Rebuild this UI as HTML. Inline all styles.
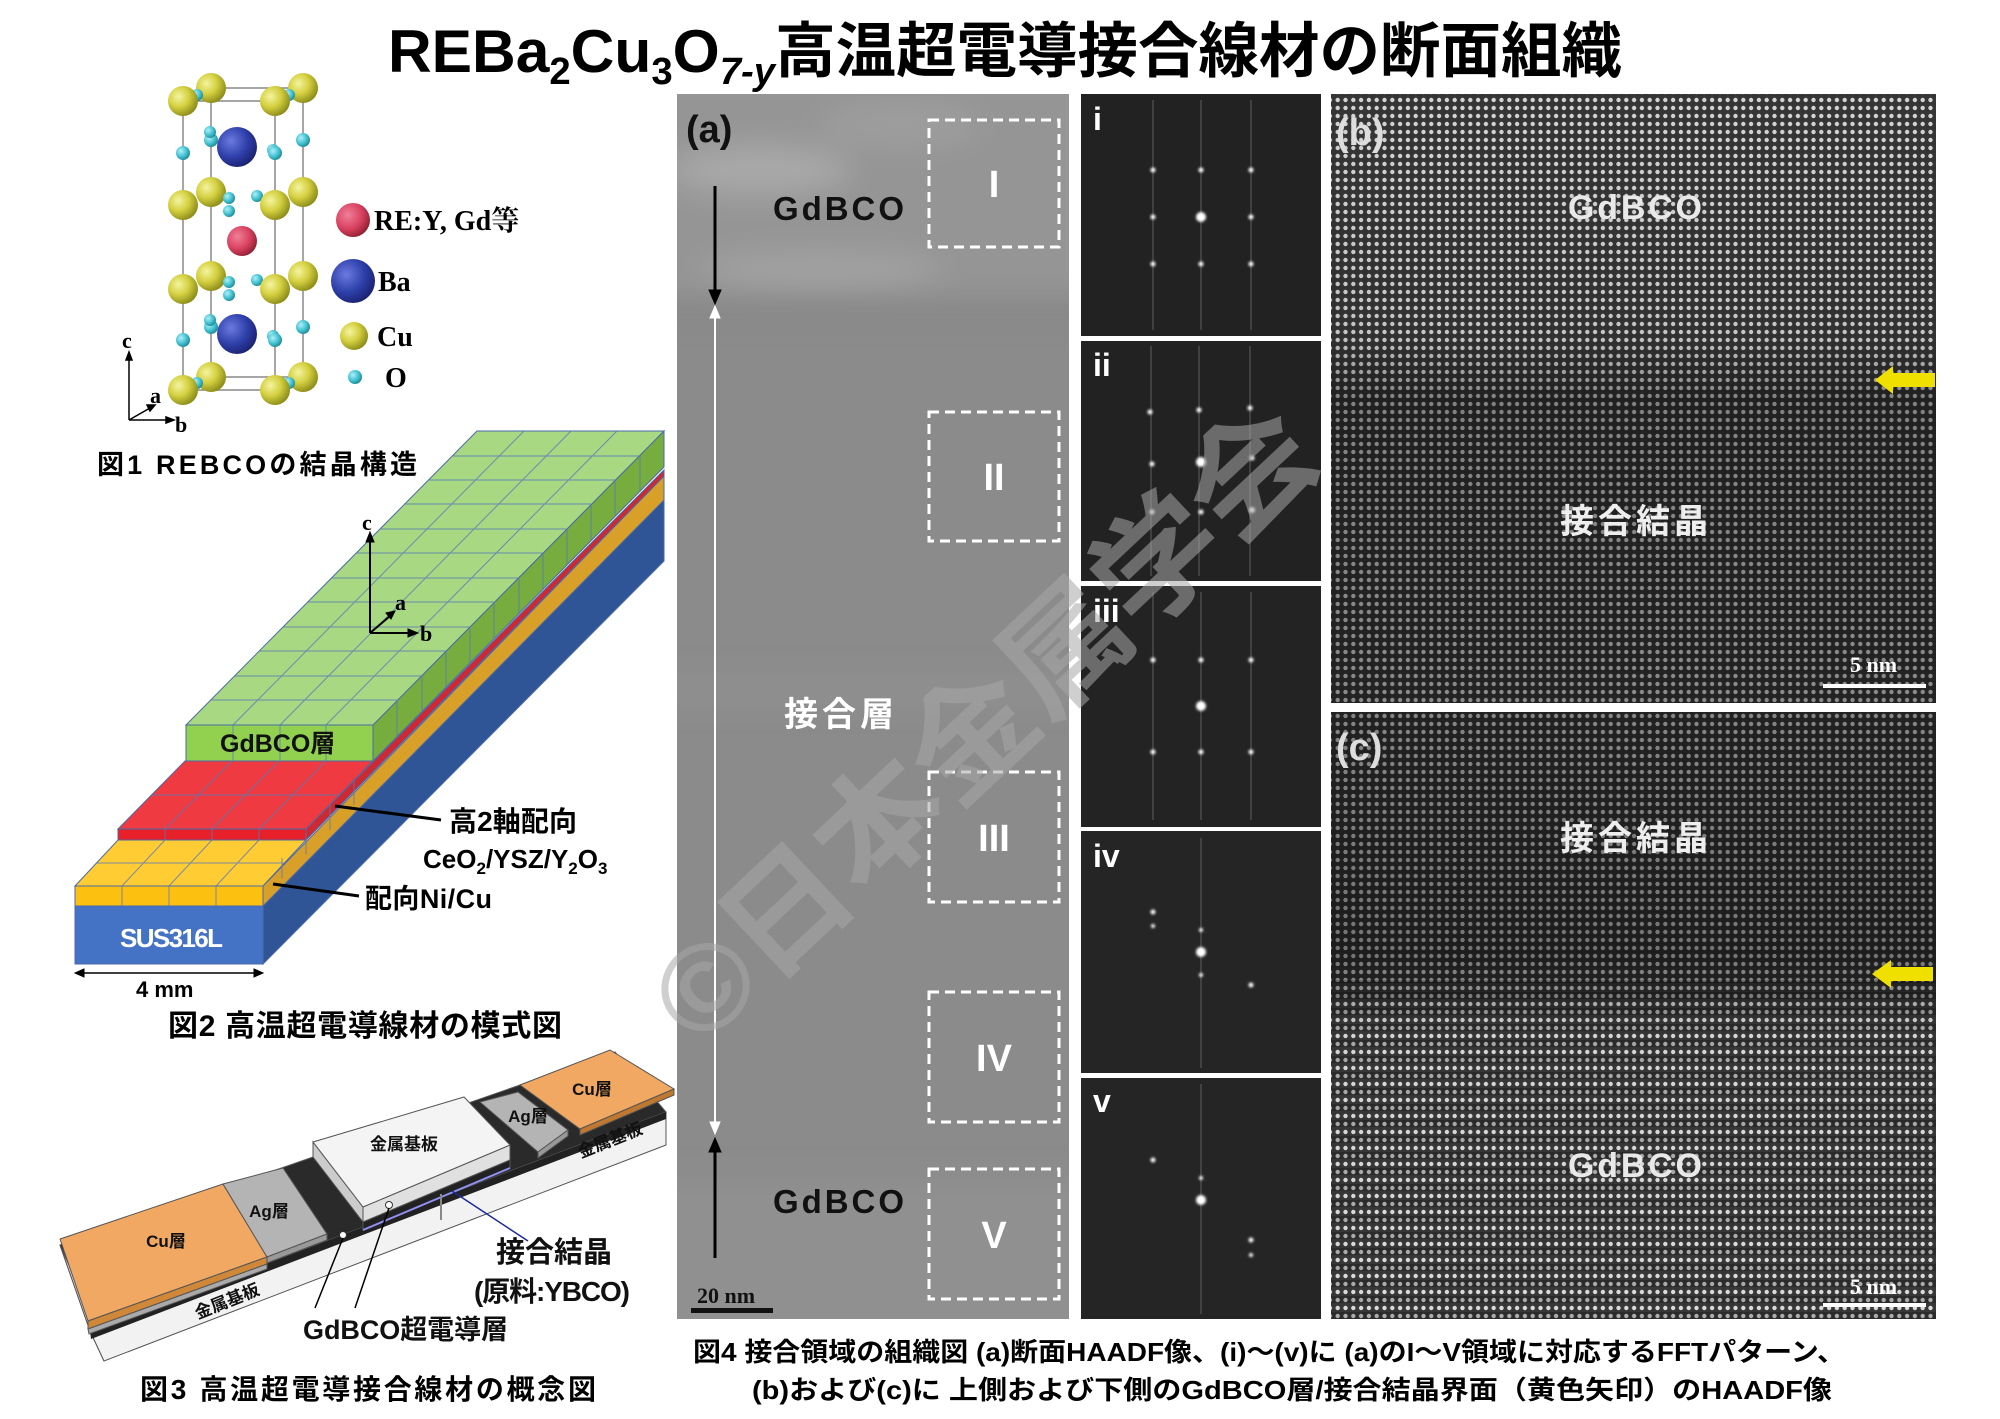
<!DOCTYPE html>
<html><head><meta charset="utf-8"><style>
html,body{margin:0;padding:0;background:#fff;}
svg{display:block;}
.s{font-family:"Liberation Sans","Noto Sans CJK JP",sans-serif;font-weight:bold;}
.r{font-family:"Liberation Serif","Noto Serif CJK SC",serif;font-weight:bold;}
</style></head><body>
<svg width="2000" height="1419" viewBox="0 0 2000 1419" xmlns="http://www.w3.org/2000/svg">
<defs>
<radialGradient id="gCu" cx="35%" cy="35%" r="70%"><stop offset="0" stop-color="#f4f4a0"/><stop offset="0.5" stop-color="#d4d040"/><stop offset="1" stop-color="#8a8a18"/></radialGradient>
<radialGradient id="gBa" cx="35%" cy="35%" r="70%"><stop offset="0" stop-color="#6a7ae0"/><stop offset="0.6" stop-color="#2e3ea8"/><stop offset="1" stop-color="#1a2270"/></radialGradient>
<radialGradient id="gRE" cx="35%" cy="35%" r="70%"><stop offset="0" stop-color="#f08098"/><stop offset="0.6" stop-color="#d84060"/><stop offset="1" stop-color="#902030"/></radialGradient>
<radialGradient id="gO" cx="35%" cy="35%" r="70%"><stop offset="0" stop-color="#b0f0f8"/><stop offset="0.6" stop-color="#40c0d0"/><stop offset="1" stop-color="#208890"/></radialGradient>
<pattern id="lat" width="7.8" height="8" patternUnits="userSpaceOnUse"><rect width="7.8" height="8" fill="#383838"/><circle cx="3.9" cy="4" r="2.2" fill="#e0e0e0"/></pattern>
<pattern id="stripe" width="10" height="16" patternUnits="userSpaceOnUse"><rect width="10" height="7" fill="#000" fill-opacity="0.22"/></pattern>
<linearGradient id="gb" x1="0" y1="0" x2="0" y2="1">
<stop offset="0" stop-color="#000" stop-opacity="0.05"/><stop offset="0.4" stop-color="#000" stop-opacity="0.12"/><stop offset="0.5" stop-color="#000" stop-opacity="0.42"/><stop offset="1" stop-color="#000" stop-opacity="0.38"/></linearGradient>
<linearGradient id="gc" x1="0" y1="0" x2="0" y2="1">
<stop offset="0" stop-color="#000" stop-opacity="0.4"/><stop offset="0.4" stop-color="#000" stop-opacity="0.48"/><stop offset="0.45" stop-color="#000" stop-opacity="0.38"/><stop offset="0.52" stop-color="#000" stop-opacity="0.05"/><stop offset="1" stop-color="#000" stop-opacity="0.02"/></linearGradient>
<filter id="bl"><feGaussianBlur stdDeviation="14"/></filter>
<filter id="bl2"><feGaussianBlur stdDeviation="1.2"/></filter>
<clipPath id="ca"><rect x="677" y="94" width="392" height="1225"/></clipPath>
</defs>

<!-- Title -->
<text class="s" x="388" y="72" font-size="60" textLength="1234" lengthAdjust="spacingAndGlyphs">REBa<tspan font-size="38" dy="12">2</tspan><tspan dy="-12">Cu</tspan><tspan font-size="38" dy="12">3</tspan><tspan dy="-12">O</tspan><tspan font-size="38" dy="12" font-style="italic">7-y</tspan><tspan dy="-12">高温超電導接合線材の断面組織</tspan></text>

<!-- Fig1 crystal -->
<g stroke="#888" stroke-width="1.5" fill="none">
<path d="M183 101 L275 101 L303 88 L211 88 Z M183 390 L275 390 L303 377 L211 377 Z M183 101 V390 M275 101 V390 M303 88 V377 M211 88 V377"/>
</g>
<g>
<circle cx="211" cy="88" r="15" fill="url(#gCu)"/><circle cx="303" cy="88" r="15" fill="url(#gCu)"/>
<circle cx="211" cy="140" r="7" fill="url(#gO)"/><circle cx="303" cy="140" r="7" fill="url(#gO)"/>
<circle cx="211" cy="192" r="15" fill="url(#gCu)"/><circle cx="303" cy="192" r="15" fill="url(#gCu)"/>
<circle cx="211" cy="276" r="15" fill="url(#gCu)"/><circle cx="303" cy="276" r="15" fill="url(#gCu)"/>
<circle cx="211" cy="327" r="7" fill="url(#gO)"/><circle cx="303" cy="327" r="7" fill="url(#gO)"/>
<circle cx="211" cy="377" r="15" fill="url(#gCu)"/><circle cx="303" cy="377" r="15" fill="url(#gCu)"/>
<circle cx="197" cy="95" r="6" fill="url(#gO)"/><circle cx="289" cy="95" r="6" fill="url(#gO)"/>
<circle cx="229" cy="198" r="6" fill="url(#gO)"/><circle cx="257" cy="196" r="6" fill="url(#gO)"/>
<circle cx="229" cy="282" r="6" fill="url(#gO)"/><circle cx="257" cy="280" r="6" fill="url(#gO)"/>
<circle cx="197" cy="383" r="6" fill="url(#gO)"/><circle cx="289" cy="383" r="6" fill="url(#gO)"/>
<circle cx="237" cy="147" r="20" fill="url(#gBa)"/>
<circle cx="273" cy="150" r="6" fill="url(#gO)"/><circle cx="210" cy="132" r="6" fill="url(#gO)"/>
<circle cx="242" cy="241" r="15" fill="url(#gRE)"/>
<circle cx="237" cy="334" r="20" fill="url(#gBa)"/>
<circle cx="273" cy="336" r="6" fill="url(#gO)"/><circle cx="210" cy="320" r="6" fill="url(#gO)"/>
<circle cx="183" cy="153" r="7" fill="url(#gO)"/><circle cx="275" cy="153" r="7" fill="url(#gO)"/>
<circle cx="183" cy="340" r="7" fill="url(#gO)"/><circle cx="275" cy="340" r="7" fill="url(#gO)"/>
<circle cx="183" cy="101" r="15" fill="url(#gCu)"/><circle cx="275" cy="101" r="15" fill="url(#gCu)"/>
<circle cx="183" cy="205" r="15" fill="url(#gCu)"/><circle cx="275" cy="205" r="15" fill="url(#gCu)"/>
<circle cx="183" cy="289" r="15" fill="url(#gCu)"/><circle cx="275" cy="289" r="15" fill="url(#gCu)"/>
<circle cx="183" cy="390" r="15" fill="url(#gCu)"/><circle cx="275" cy="390" r="15" fill="url(#gCu)"/>
<circle cx="229" cy="211" r="6" fill="url(#gO)"/><circle cx="229" cy="295" r="6" fill="url(#gO)"/>
</g>
<g stroke="#000" stroke-width="1.5" fill="#000">
<path d="M129 420 V358" fill="none"/><path d="M126 360 L129 352 L132 360 Z"/>
<path d="M129 420 H168" fill="none"/><path d="M166 417 L174 420 L166 423 Z"/>
<path d="M129 420 L150 408" fill="none"/><path d="M147 405 L155 405 L150 411 Z"/>
</g>
<text class="r" x="122" y="348" font-size="22">c</text>
<text class="r" x="150" y="403" font-size="22">a</text>
<text class="r" x="175" y="432" font-size="22">b</text>
<circle cx="353" cy="220" r="17" fill="url(#gRE)"/>
<circle cx="353" cy="281" r="22" fill="url(#gBa)"/>
<circle cx="354" cy="336" r="14" fill="url(#gCu)"/>
<circle cx="355" cy="377" r="7" fill="url(#gO)"/>
<text class="r" x="374" y="230" font-size="28">RE:Y, Gd<tspan font-family="Noto Serif CJK SC,serif">等</tspan></text>
<text class="r" x="378" y="291" font-size="28">Ba</text>
<text class="r" x="377" y="346" font-size="28">Cu</text>
<text class="r" x="385" y="387" font-size="28">O</text>
<text class="s" x="97" y="474" font-size="27" textLength="320">図1  REBCOの結晶構造</text>

<!-- Fig2 -->
<g stroke="#4a6aa8" stroke-width="1">
<polygon points="263,906 664,500 664,561 263,964" fill="#2f5597"/>
<polygon points="75,906 263,906 263,964 75,964" fill="#4472c4"/>
<polygon points="263,886 664,476 664,500 263,906" fill="#d8a028"/>
<polygon points="75,886 118,840 306,840 263,886" fill="#ffcc33"/>
<polygon points="75,886 263,886 263,906 75,906" fill="#fcc010"/>
<polygon points="306,829 664,470 664,476 306,840" fill="#d02830"/>
<polygon points="118,829 185,761 373,761 306,829" fill="#ee3a40"/>
<polygon points="118,829 306,829 306,840 118,840" fill="#e8202a"/>
<polygon points="373,725 664,431 664,467 373,761" fill="#76ad3e"/>
<polygon points="186,725 477,431 664,431 373,725" fill="#a8d882"/>
<polygon points="186,725 373,725 373,761 186,761" fill="#92d050"/>
</g>
<g stroke="#5a7ab8" stroke-width="1" fill="none" opacity="0.8">
<path d="M210 700 H397 M235 676 H422 M259 651 H446 M283 627 H470 M307 602 H494 M332 578 H519 M356 553 H543 M380 529 H567 M404 504 H591 M428 480 H615 M453 456 H640"/>
<path d="M233 725 L524 431 M280 725 L571 431 M326 725 L617 431"/>
<path d="M233 725 V761 M280 725 V761 M326 725 V761"/>
<path d="M397 700 V737 M422 676 V712 M446 651 V688 M470 627 V663 M494 602 V639 M519 578 V614 M543 553 V590 M567 529 V565 M591 504 V541 M615 480 V516 M640 456 V492"/>
<path d="M152 795 H340 M165 829 L232 761 M212 829 L279 761 M259 829 L326 761 M165 829 V840 M212 829 V840 M259 829 V840"/>
<path d="M96 863 H284 M122 886 L165 840 M169 886 L212 840 M216 886 L259 840 M122 886 V906 M169 886 V906 M216 886 V906"/>
<path d="M330 805 V816 M354 781 V792 M282 858 V878 M306 834 V854 M330 810 V830 M354 785 V805"/>
</g>
<g stroke="#000" fill="#000">
<path d="M370 633 V540" stroke-width="2"/><path d="M366 542 L370 532 L374 542 Z"/>
<path d="M370 633 H410" stroke-width="2"/><path d="M408 629 L418 633 L408 637 Z"/>
<path d="M370 633 L390 616" stroke-width="2"/><path d="M386 613 L395 611 L391 619 Z"/>
<path d="M335 806 L441 820" stroke-width="3"/>
<path d="M273 884 L359 896" stroke-width="3"/>
<path d="M78 973 H260" stroke-width="1.5"/><path d="M84 969 L75 973 L84 977 Z"/><path d="M254 969 L263 973 L254 977 Z"/>
</g>
<text class="r" x="362" y="530" font-size="22">c</text>
<text class="r" x="395" y="610" font-size="22">a</text>
<text class="r" x="420" y="641" font-size="22">b</text>
<text class="s" x="220" y="752" font-size="25" fill="#111">GdBCO層</text>
<text class="s" x="449" y="831" font-size="28" textLength="128">高2軸配向</text>
<text class="s" x="423" y="868" font-size="26">CeO<tspan font-size="17" dy="6">2</tspan><tspan dy="-6">/YSZ/Y</tspan><tspan font-size="17" dy="6">2</tspan><tspan dy="-6">O</tspan><tspan font-size="17" dy="6">3</tspan></text>
<text class="s" x="365" y="908" font-size="27" textLength="127">配向Ni/Cu</text>
<text class="s" x="120" y="947" font-size="26" fill="#fff" textLength="103">SUS316L</text>
<text class="s" x="136" y="997" font-size="22">4 mm</text>
<text class="s" x="168" y="1036" font-size="30" textLength="394">図2  高温超電導線材の模式図</text>

<!-- Fig3 -->
<g stroke="#555" stroke-width="1">
<polygon points="60,1245 615,1052 666,1112 90,1331" fill="#2a2a2a"/>
<polygon points="60,1245 90,1331 104,1361 72,1272" fill="#ddd"/>
<polygon points="90,1331 666,1112 666,1145 104,1361" fill="#f2f2f2"/>
<polygon points="90,1331 666,1112 666,1119 91,1339" fill="#222" stroke="none"/>
<polygon points="60,1239 223,1184 267,1257 88,1321" fill="#f0a862"/>
<polygon points="88,1321 267,1257 267,1264 88,1329" fill="#d08838"/>
<polygon points="88,1329 267,1264 267,1269 89,1334" fill="#aaa"/>
<polygon points="223,1184 283,1168 327,1234 267,1257" fill="#b4b4b4"/>
<polygon points="267,1257 327,1234 327,1240 267,1263" fill="#999"/>
<polygon points="313,1142 363,1207 363,1222 313,1157" fill="#ccc"/>
<polygon points="363,1207 510,1145 510,1160 363,1222" fill="#e0e0e0"/>
<polygon points="363,1222 510,1160 510,1168 363,1230" fill="#222"/>
<polygon points="313,1142 464,1097 510,1145 363,1207" fill="#f4f4f4"/>
<polygon points="480,1102 518,1092 568,1130 538,1152" fill="#b4b4b4"/>
<polygon points="538,1152 568,1130 568,1136 538,1158" fill="#999"/>
<polygon points="520,1085 610,1050 674,1089 580,1129" fill="#f0a862"/>
<polygon points="580,1129 674,1089 674,1095 580,1135" fill="#c07830"/>
</g>
<path d="M363 1230 L510 1168" stroke="#9090f0" stroke-width="2"/>
<path d="M441 1194 V1220" stroke="#888" stroke-width="2"/>
<circle cx="343" cy="1235" r="3.5" fill="#fff" stroke="#333"/>
<circle cx="389" cy="1205" r="3.5" fill="#fff" stroke="#333"/>
<path d="M343 1238 L315 1308 M389 1208 L355 1308" stroke="#000" stroke-width="1.5"/>
<path d="M452 1191 L528 1241" stroke="#1a2a9a" stroke-width="1.5"/>
<g class="s" font-size="17" fill="#111">
<text x="404" y="1150" text-anchor="middle">金属基板</text>
<text x="166" y="1247" text-anchor="middle">Cu層</text>
<text x="592" y="1095" text-anchor="middle">Cu層</text>
<text x="269" y="1217" text-anchor="middle">Ag層</text>
<text x="528" y="1122" text-anchor="middle">Ag層</text>
<text x="227" y="1307" text-anchor="middle" transform="rotate(-22 227 1301)">金属基板</text>
<text x="610" y="1146" text-anchor="middle" transform="rotate(-22 610 1140)">金属基板</text>
</g>
<text class="s" x="496" y="1262" font-size="29" textLength="116" fill="#111">接合結晶</text>
<text class="s" x="474" y="1301" font-size="28" textLength="156" fill="#111">(原料:YBCO)</text>
<text class="s" x="303" y="1339" font-size="27" textLength="205" fill="#111">GdBCO超電導層</text>
<text class="s" x="140" y="1399" font-size="28" textLength="456">図3  高温超電導接合線材の概念図</text>

<!-- Fig4 (a) -->
<rect x="677" y="94" width="392" height="1225" fill="#8b8b8b"/>
<g clip-path="url(#ca)"><g filter="url(#bl)">
<rect x="640" y="60" width="460" height="240" fill="#959595"/>
<ellipse cx="760" cy="170" rx="90" ry="25" fill="#a8a8a8"/>
<ellipse cx="820" cy="270" rx="120" ry="18" fill="#a2a2a2"/>
<ellipse cx="900" cy="125" rx="80" ry="20" fill="#9e9e9e"/>
<rect x="640" y="300" width="460" height="12" fill="#808080"/>
<rect x="640" y="680" width="460" height="20" fill="#929292"/>
<rect x="640" y="1180" width="460" height="170" fill="#909090"/>
</g></g>
<g fill="none" stroke="#fff" stroke-width="3" stroke-dasharray="10,6">
<rect x="929" y="120" width="130" height="127"/>
<rect x="929" y="412" width="130" height="129"/>
<rect x="929" y="772" width="130" height="130"/>
<rect x="929" y="992" width="130" height="130"/>
<rect x="929" y="1169" width="130" height="130"/>
</g>
<g class="s" fill="#fff" font-size="38" text-anchor="middle">
<text x="994" y="197">I</text><text x="994" y="490">II</text><text x="994" y="851">III</text><text x="994" y="1071">IV</text><text x="994" y="1248">V</text>
</g>
<text class="s" x="686" y="142" font-size="38" fill="#111">(a)</text>
<text class="s" x="773" y="220" font-size="33" fill="#111" textLength="131">GdBCO</text>
<text class="s" x="773" y="1213" font-size="33" fill="#111" textLength="131">GdBCO</text>
<text class="s" x="784" y="726" font-size="34" fill="#fff" textLength="110">接合層</text>
<g stroke="#000" fill="#000">
<path d="M715 186 V294" stroke-width="3"/><path d="M709 290 L715 304 L721 290 Z"/>
<path d="M715 1258 V1148" stroke-width="3"/><path d="M709 1152 L715 1138 L721 1152 Z"/>
</g>
<g stroke="#fff" fill="#fff">
<path d="M715 316 V1124" stroke-width="2"/><path d="M710 318 L715 306 L720 318 Z"/><path d="M710 1122 L715 1134 L720 1122 Z"/>
</g>
<text class="r" x="697" y="1303" font-size="22" fill="#111">20 nm</text>
<rect x="691" y="1308" width="82" height="5" fill="#111"/>

<!-- FFT -->
<rect x="1081" y="94" width="240" height="242" fill="#222"/>
<rect x="1081" y="341" width="240" height="240" fill="#222"/>
<rect x="1081" y="586" width="240" height="241" fill="#232323"/>
<rect x="1081" y="831" width="240" height="242" fill="#252525"/>
<rect x="1081" y="1078" width="240" height="241" fill="#252525"/>
<g stroke="#888" stroke-width="1" opacity="0.6">
<path d="M1153 100 V330 M1201 100 V330 M1251 100 V330"/>
<path d="M1151 346 V576 M1199 346 V576 M1250 346 V576"/>
<path d="M1153 592 V820 M1201 592 V820 M1251 592 V820"/>
<path d="M1201 838 V1068"/>
<path d="M1201 1084 V1314"/>
</g>
<g fill="#fff" filter="url(#bl2)">
<circle cx="1201" cy="217" r="5"/><circle cx="1153" cy="217" r="2.5"/><circle cx="1251" cy="217" r="2.5"/>
<circle cx="1153" cy="170" r="2.5"/><circle cx="1201" cy="170" r="2.5"/><circle cx="1251" cy="170" r="2.5"/>
<circle cx="1153" cy="264" r="2.5"/><circle cx="1201" cy="264" r="2.5"/><circle cx="1251" cy="264" r="2.5"/>
<circle cx="1201" cy="462" r="5"/><circle cx="1150" cy="412" r="2.5"/><circle cx="1199" cy="410" r="2.5"/><circle cx="1250" cy="408" r="2.5"/>
<circle cx="1152" cy="464" r="2.5"/><circle cx="1252" cy="458" r="2.5"/><circle cx="1152" cy="512" r="2.5"/><circle cx="1201" cy="512" r="2.5"/><circle cx="1252" cy="510" r="3"/>
<circle cx="1201" cy="706" r="5"/><circle cx="1153" cy="660" r="2.5"/><circle cx="1201" cy="660" r="2.5"/><circle cx="1251" cy="660" r="2.5"/>
<circle cx="1153" cy="752" r="2.5"/><circle cx="1201" cy="752" r="2.5"/><circle cx="1251" cy="752" r="2.5"/>
<circle cx="1201" cy="952" r="5"/><circle cx="1153" cy="912" r="2.5"/><circle cx="1153" cy="926" r="2"/><circle cx="1251" cy="985" r="2.5"/><circle cx="1201" cy="930" r="2"/><circle cx="1201" cy="975" r="2"/>
<circle cx="1201" cy="1200" r="5"/><circle cx="1153" cy="1160" r="2.5"/><circle cx="1251" cy="1240" r="2.5"/><circle cx="1251" cy="1255" r="2"/><circle cx="1201" cy="1178" r="2"/>
</g>
<g class="s" fill="#fff" font-size="32">
<text x="1093" y="130">i</text><text x="1093" y="376">ii</text><text x="1093" y="622">iii</text><text x="1093" y="867">iv</text><text x="1093" y="1112">v</text>
</g>

<!-- (b) -->
<rect x="1331" y="94" width="605" height="609" fill="url(#lat)"/>
<rect x="1331" y="94" width="605" height="609" fill="url(#gb)"/>
<text class="s" x="1336" y="145" font-size="38" fill="#ddd">(b)</text>
<text class="s" x="1568" y="219" font-size="34" fill="#e8e8e8" textLength="134">GdBCO</text>
<text class="s" x="1560" y="533" font-size="34" fill="#eee" textLength="148">接合結晶</text>
<path d="M1935 373 H1893 V366 L1875 380 L1893 394 V387 H1935 Z" fill="#f0e000"/>
<text class="r" x="1850" y="672" font-size="22" fill="#fff">5 nm</text>
<rect x="1823" y="684" width="103" height="4" fill="#fff"/>

<!-- (c) -->
<rect x="1331" y="712" width="605" height="607" fill="url(#lat)"/>
<rect x="1331" y="980" width="605" height="339" fill="url(#stripe)"/>
<rect x="1331" y="712" width="605" height="607" fill="url(#gc)"/>
<text class="s" x="1336" y="760" font-size="38" fill="#ddd">(c)</text>
<text class="s" x="1560" y="850" font-size="34" fill="#eee" textLength="148">接合結晶</text>
<text class="s" x="1568" y="1177" font-size="34" fill="#e8e8e8" textLength="134">GdBCO</text>
<path d="M1933 967 H1891 V960 L1872 974 L1891 988 V981 H1933 Z" fill="#f0e000"/>
<text class="r" x="1850" y="1294" font-size="22" fill="#fff">5 nm</text>
<rect x="1823" y="1303" width="103" height="4" fill="#fff"/>

<!-- watermark -->
<text class="s" x="0" y="0" font-size="122" fill="#a8a8a8" fill-opacity="0.55" textLength="860" lengthAdjust="spacingAndGlyphs" transform="translate(700 1050) rotate(-43.2)">©日本金属学会</text>

<!-- caption -->
<text class="s" x="693" y="1361" font-size="26" textLength="1152" lengthAdjust="spacingAndGlyphs">図4  接合領域の組織図 (a)断面HAADF像、(i)～(v)に (a)のI～V領域に対応するFFTパターン、</text>
<text class="s" x="752" y="1399" font-size="26" textLength="1080" lengthAdjust="spacingAndGlyphs">(b)および(c)に 上側および下側のGdBCO層/接合結晶界面（黄色矢印）のHAADF像</text>
</svg>
</body></html>
